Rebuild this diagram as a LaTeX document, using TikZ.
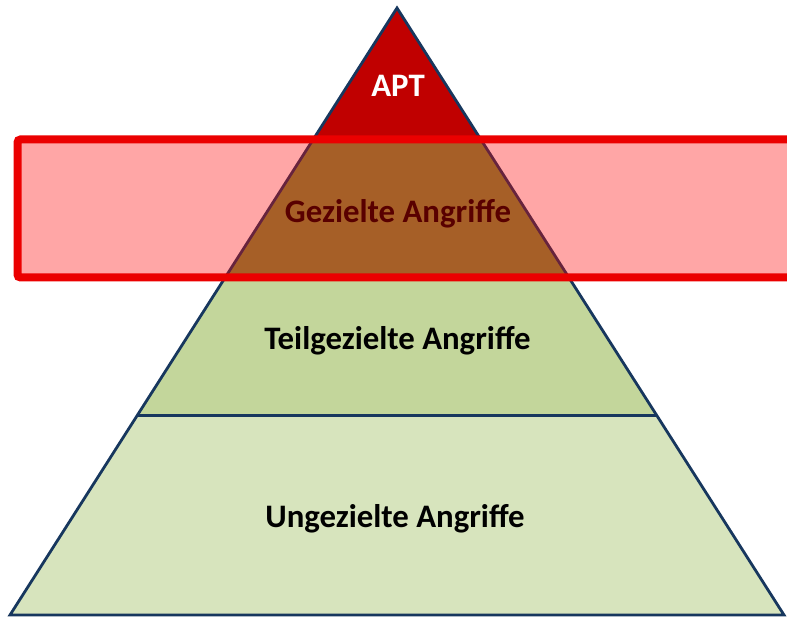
\documentclass[tikz,border=0pt]{standalone}
\usepackage{fontspec}
\setmainfont{Carlito}
\begin{document}
\begin{tikzpicture}[x=1pt,y=-1pt,
  edge/.style={draw=navy,line width=2.8pt,line join=miter},
  lbl/.style={font=\bfseries\fontsize{32.8}{38}\selectfont,inner sep=0pt,anchor=base}]
\definecolor{navy}{RGB}{23,55,94}
\definecolor{aptred}{RGB}{192,0,0}
\definecolor{olive}{RGB}{119,147,60}
\definecolor{greenmid}{RGB}{195,214,155}
\definecolor{greenlow}{RGB}{215,228,189}
\definecolor{bandred}{RGB}{235,0,0}
\useasboundingbox (0,0) rectangle (787,617);
\clip (0,0) rectangle (787,617);
% pyramid corners and level points
\coordinate (A) at (397,8);
\coordinate (L) at (10,615);
\coordinate (R) at (784,615);
\coordinate (l1) at (313.5,139);  \coordinate (r1) at (480.5,139);
\coordinate (l2) at (225.5,277);  \coordinate (r2) at (568.5,277);
\coordinate (l3) at (137.2,415.5);\coordinate (r3) at (656.8,415.5);
% levels
\path[fill=aptred] (A) -- (r1) -- (l1) -- cycle;
\path[fill=olive] (l1) -- (r1) -- (r2) -- (l2) -- cycle;
\path[fill=greenmid] (l2) -- (r2) -- (r3) -- (l3) -- cycle;
\path[fill=greenlow] (l3) -- (r3) -- (R) -- (L) -- cycle;
\draw[edge] (l3) -- (r3);
\draw[edge] (A) -- (R) -- (L) -- cycle;
% labels
\node[lbl,text=white] (apt) at (398,97) {APT};
\node[lbl,text=black] (gez) at (398,223) {Gezielte Angriffe};
\node[lbl,text=black] (teil) at (397.5,350) {Teilgezielte Angriffe};
\node[lbl,text=black] (unge) at (395,527) {Ungezielte Angriffe};
% highlight band
\draw[draw=bandred,line width=8pt,fill=red,fill opacity=0.35,draw opacity=1,rounded corners=3pt]
  (17.5,139.5) rectangle (800,277.5);
\end{tikzpicture}
\end{document}
